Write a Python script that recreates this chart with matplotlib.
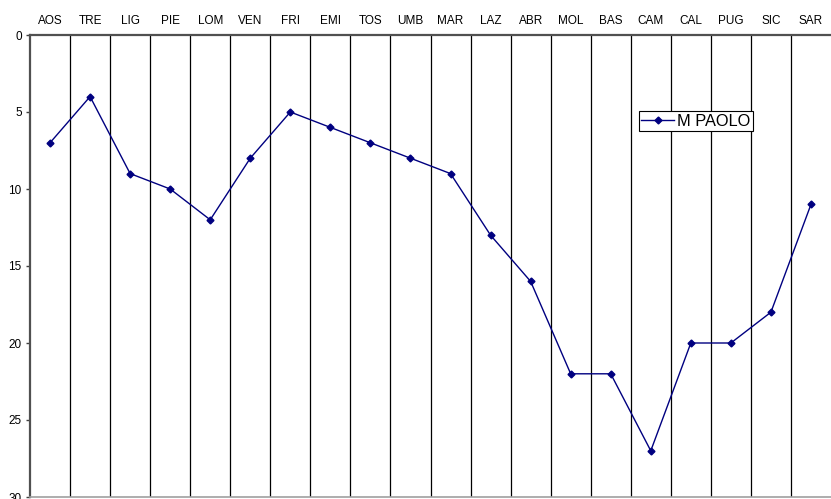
import matplotlib
matplotlib.use("Agg")
from matplotlib import pyplot as plt
import numpy as np

regions = ["AOS", "TRE", "LIG", "PIE", "LOM", "VEN", "FRI", "EMI", "TOS", "UMB",
           "MAR", "LAZ", "ABR", "MOL", "BAS", "CAM", "CAL", "PUG", "SIC", "SAR"]
m_paolo = [7, 4, 9, 10, 12, 8, 5, 6, 7, 8, 9, 13, 16, 22, 22, 27, 20, 20, 18, 11]
y_ticks = [0, 5, 10, 15, 20, 25, 30]

plt.rcParams['font.family'] = ['Liberation Sans', 'DejaVu Sans']

fig = plt.figure(figsize=(8.31, 4.99), dpi=100)
ax = fig.add_axes([30/831, 2/499, 801/831, 462/499])

x = np.arange(len(regions))
ax.plot(x, m_paolo, color='#000080', marker='D', markersize=3.5, linewidth=1,
        label='M PAOLO')

ax.set_xlim(-0.5, len(regions) - 0.5)
ax.set_ylim(30, 0)
ax.set_yticks(y_ticks)
ax.tick_params(axis='y', labelsize=8.5, length=3, width=1, color='#404040', pad=3)

ax.xaxis.tick_top()
ax.set_xticks(x)
ax.set_xticklabels(regions, fontsize=8.5)
ax.tick_params(axis='x', which='major', length=0, pad=6)
ax.set_xticks(np.arange(0.5, len(regions) - 0.5, 1), minor=True)
ax.tick_params(axis='x', which='minor', length=0)
ax.grid(True, axis='x', which='minor', color='black', linewidth=0.9)

ax.spines['left'].set_color('#505050')
ax.spines['left'].set_linewidth(1.6)
ax.spines['top'].set_color('#505050')
ax.spines['top'].set_linewidth(1.6)
ax.spines['bottom'].set_color('#a0a0a0')
ax.spines['bottom'].set_linewidth(1.2)
ax.spines['right'].set_visible(False)

leg = ax.legend(loc='center', bbox_to_anchor=((696 - 30)/801, 1 - (121 - 35)/462),
                bbox_transform=ax.transAxes, fontsize=11.8, frameon=True, fancybox=False,
                edgecolor='black', borderpad=0.15, handlelength=2.0, handletextpad=0.2,
                borderaxespad=0)
leg.get_frame().set_linewidth(0.8)
leg.get_frame().set_alpha(1)

fig.savefig("out.png", dpi=100)
